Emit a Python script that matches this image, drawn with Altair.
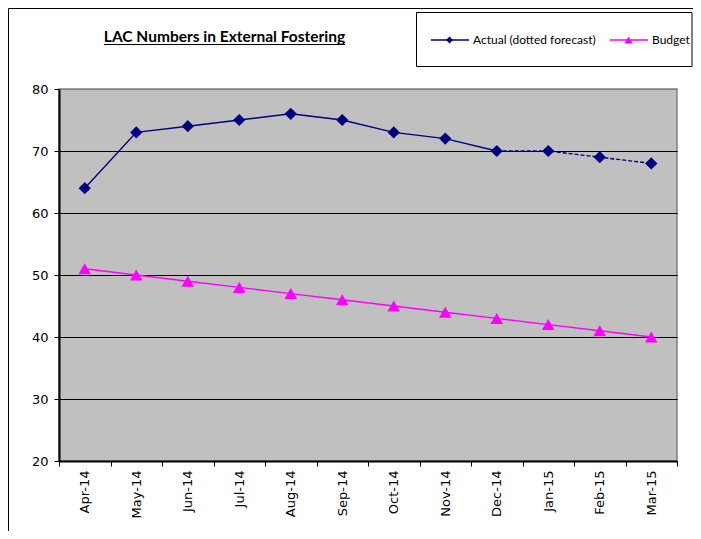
import altair as alt
import pandas as pd

months = ["Apr-14", "May-14", "Jun-14", "Jul-14", "Aug-14", "Sep-14",
          "Oct-14", "Nov-14", "Dec-14", "Jan-15", "Feb-15", "Mar-15"]
actual = [64, 73, 74, 75, 76, 75, 73, 72, 70, 70, 69, 68]
budget = [51, 50, 49, 48, 47, 46, 45, 44, 43, 42, 41, 40]
forecast_from = 8  # Dec-14: last actual; dotted forecast after it
y_ticks = [20, 30, 40, 50, 60, 70, 80]
title_text = "LAC Numbers in External Fostering"
legend_labels = ["Actual (dotted forecast)", "Budget"]

NAVY = "#000080"
MAGENTA = "#FF00FF"
AXIS_FONT = "DejaVu Sans"
LEG_FONT = "Lato"

df = pd.DataFrame({"month": months, "actual": actual, "budget": budget,
                   "idx": list(range(len(months)))})
one = pd.DataFrame({"k": [0]})

x_enc = alt.X("month:N", sort=months, title=None,
              scale=alt.Scale(type="band", paddingInner=0, paddingOuter=0),
              axis=alt.Axis(labelAngle=-90, tickBand="extent", grid=False,
                            domainColor="black", domainWidth=2,
                            tickColor="black", tickSize=5, tickWidth=1,
                            labelFont=AXIS_FONT, labelFontSize=13,
                            labelColor="black", labelPadding=4))
y_axis = alt.Axis(values=y_ticks, grid=True,
                  gridColor={"condition": {"test": "datum.value === 80", "value": "#808080"},
                             "value": "black"},
                  gridWidth=1, domainColor="black", domainWidth=2,
                  tickColor="black", tickSize=5, tickWidth=1,
                  labelFont=AXIS_FONT, labelFontSize=13, labelColor="black",
                  labelPadding=6)
y_scale = alt.Scale(domain=[20, 80], nice=False, zero=False)

base = alt.Chart(df)

act_solid = base.transform_filter(alt.datum.idx <= forecast_from).mark_line(
    color=NAVY, strokeWidth=1.4).encode(
    x=x_enc, y=alt.Y("actual:Q", scale=y_scale, axis=y_axis, title=None),
    order=alt.Order("idx:Q"))
act_dash = base.transform_filter(alt.datum.idx >= forecast_from).mark_line(
    color=NAVY, strokeWidth=1.4, strokeDash=[4, 2]).encode(
    x=x_enc, y=alt.Y("actual:Q", scale=y_scale, axis=y_axis, title=None),
    order=alt.Order("idx:Q"))
act_pts = base.mark_point(shape="diamond", filled=True, color=NAVY, size=150,
                          opacity=1).encode(
    x=x_enc, y=alt.Y("actual:Q", scale=y_scale, axis=y_axis, title=None))
bud_line = base.mark_line(color=MAGENTA, strokeWidth=1.4).encode(
    x=x_enc, y=alt.Y("budget:Q", scale=y_scale, axis=y_axis, title=None),
    order=alt.Order("idx:Q"))
bud_pts = base.mark_point(shape="triangle-up", filled=True, color=MAGENTA,
                          size=160, opacity=1).encode(
    x=x_enc, y=alt.Y("budget:Q", scale=y_scale, axis=y_axis, title=None))

deco = alt.Chart(one)
outer_top = deco.mark_rule(color="black", strokeWidth=1).encode(
    x=alt.value(-50.5), x2=alt.value(640), y=alt.value(-80.5))
outer_left = deco.mark_rule(color="black", strokeWidth=1).encode(
    x=alt.value(-50.5), y=alt.value(-80.5), y2=alt.value(450))
title = deco.mark_text(font=LEG_FONT, fontSize=15.5, fontWeight="bold", align="center",
                       baseline="alphabetic", color="black").encode(
    x=alt.value(165.5), y=alt.value(-47.5), text=alt.value(title_text))
underline = deco.mark_rule(color="black", strokeWidth=1.2).encode(
    x=alt.value(45), x2=alt.value(286), y=alt.value(-44.5))

leg_box = deco.mark_rect(fill="white", stroke="black", strokeWidth=1).encode(
    x=alt.value(357.5), x2=alt.value(633), y=alt.value(-76.5), y2=alt.value(-22.5))
leg_l1 = deco.mark_rule(color=NAVY, strokeWidth=1.3).encode(
    x=alt.value(372), x2=alt.value(410), y=alt.value(-49))
leg_p1 = deco.mark_point(shape="diamond", filled=True, color=NAVY, size=50, opacity=1).encode(
    x=alt.value(390.5), y=alt.value(-49))
leg_t1 = deco.mark_text(font=LEG_FONT, fontSize=12, align="left", baseline="middle",
                        color="black").encode(
    x=alt.value(414), y=alt.value(-49), text=alt.value(legend_labels[0]))
leg_l2 = deco.mark_rule(color=MAGENTA, strokeWidth=1.3).encode(
    x=alt.value(551), x2=alt.value(589), y=alt.value(-49))
leg_p2 = deco.mark_point(shape="triangle-up", filled=True, color=MAGENTA, size=70,
                         opacity=1).encode(
    x=alt.value(569.5), y=alt.value(-49))
leg_t2 = deco.mark_text(font=LEG_FONT, fontSize=12, align="left", baseline="middle",
                        color="black").encode(
    x=alt.value(593), y=alt.value(-49), text=alt.value(legend_labels[1]))

chart = alt.layer(
    act_solid, act_dash, bud_line, act_pts, bud_pts,
    outer_top, outer_left, title, underline,
    leg_box, leg_l1, leg_p1, leg_t1, leg_l2, leg_p2, leg_t2,
).properties(
    width=618, height=372,
    background="white",
    autosize=alt.AutoSizeParams(type="none"),
    padding={"left": 51, "top": 81, "right": 16, "bottom": 70},
).configure_view(
    fill="#C0C0C0", stroke="#808080", strokeWidth=1.5
)

chart.save("out.html", embed_options={"renderer": "svg", "actions": False})
